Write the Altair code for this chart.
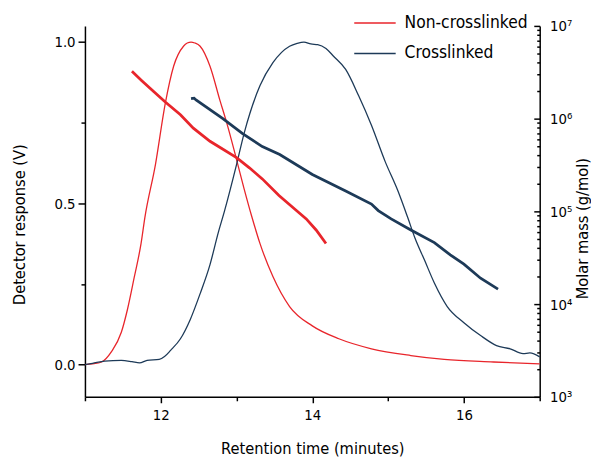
import altair as alt
import pandas as pd

FONT = "Liberation Sans Narrow, DejaVu Sans Condensed, sans-serif"
RED = "#e8252b"
NAVY = "#1d3a58"

series_names = ["Non-crosslinked", "Crosslinked"]

# Detector response (V) vs retention time (minutes)
red_det_t = [11.0, 11.1, 11.22, 11.35, 11.48, 11.56, 11.65, 11.74, 11.79, 11.93, 12.06, 12.17,
             12.30, 12.35, 12.40, 12.45, 12.52, 12.65, 12.78, 12.87, 12.99, 13.10, 13.20, 13.31,
             13.48, 13.70, 14.0, 14.35, 14.78, 15.30, 15.74, 16.39, 17.0]
red_det_v = [0.0, 0.002, 0.008, 0.04, 0.10, 0.17, 0.27, 0.375, 0.455, 0.62, 0.81, 0.925,
             0.987, 0.997, 1.0, 0.997, 0.987, 0.925, 0.82, 0.75, 0.645, 0.545, 0.46, 0.375,
             0.273, 0.18, 0.12, 0.08, 0.049, 0.028, 0.016, 0.008, 0.002]

navy_det_t = [11.0, 11.1, 11.26, 11.48, 11.62, 11.72, 11.82, 11.98, 12.05, 12.13, 12.26, 12.39,
              12.52, 12.65, 12.76, 12.84, 13.0, 13.10, 13.31, 13.48, 13.70, 13.80, 13.89, 13.98,
              14.07, 14.18, 14.28, 14.44, 14.61, 14.78, 14.96, 15.13, 15.26, 15.35, 15.48, 15.61,
              15.78, 16.0, 16.22, 16.43, 16.61, 16.78, 16.87, 17.0]
navy_det_v = [0.0, 0.004, 0.011, 0.013, 0.009, 0.005, 0.013, 0.016, 0.025, 0.044, 0.08, 0.14,
              0.22, 0.31, 0.41, 0.475, 0.62, 0.717, 0.865, 0.936, 0.987, 0.996, 1.0, 0.994,
              0.992, 0.98, 0.956, 0.915, 0.834, 0.742, 0.63, 0.538, 0.455, 0.395, 0.324, 0.253,
              0.18, 0.13, 0.09, 0.059, 0.049, 0.034, 0.036, 0.024]

# Molar mass (g/mol) vs retention time (minutes)
red_mm_t = [11.62, 11.75, 11.91, 12.06, 12.26, 12.43, 12.65, 13.0, 13.17, 13.34, 13.56, 13.79,
            13.92, 14.05, 14.18]
red_mm_m = [3.24e6, 2.57e6, 1.95e6, 1.51e6, 1.10e6, 7.9e5, 5.7e5, 3.8e5, 2.95e5, 2.24e5, 1.48e5,
            1.02e5, 8.3e4, 6.3e4, 4.5e4]

navy_mm_t = [12.40, 12.44, 12.47, 12.82, 13.08, 13.34, 13.57, 14.0, 14.44, 14.78, 14.87, 15.04,
             15.30, 15.61, 15.82, 16.0, 16.22, 16.45]
navy_mm_m = [1.64e6, 1.66e6, 1.58e6, 1.0e6, 6.9e5, 5.0e5, 4.1e5, 2.5e5, 1.66e5, 1.2e5, 1.02e5,
             8.3e4, 6.3e4, 4.6e4, 3.4e4, 2.7e4, 1.9e4, 1.45e4]

x_ticks = [11, 12, 13, 14, 15, 16, 17]
x_major = [12, 14, 16]
y_ticks = [0.0, 0.25, 0.5, 0.75, 1.0]
y_major = [0.0, 0.5, 1.0]
mm_ticks = [k * 10 ** e for e in range(3, 7) for k in range(1, 10)] + [10 ** 7]
mm_major = [10 ** 3, 10 ** 4, 10 ** 5, 10 ** 6, 10 ** 7]
mm_major_text = ["10³", "10⁴", "10⁵", "10⁶", "10⁷"]

det = pd.concat([
    pd.DataFrame({"t": red_det_t, "v": red_det_v, "series": series_names[0]}),
    pd.DataFrame({"t": navy_det_t, "v": navy_det_v, "series": series_names[1]}),
])
mm = pd.concat([
    pd.DataFrame({"t": red_mm_t, "m": red_mm_m, "series": series_names[0]}),
    pd.DataFrame({"t": navy_mm_t, "m": navy_mm_m, "series": series_names[1]}),
])


def is_in(values):
    return " || ".join(f"datum.value == {v}" for v in values)


mm_label_expr = " : ".join(f"datum.value == {v} ? '{s}'" for v, s in zip(mm_major, mm_major_text)) + " : ''"

color = alt.Color(
    "series:N",
    scale=alt.Scale(domain=series_names, range=[RED, NAVY]),
    legend=alt.Legend(
        title=None, orient="none", legendX=272, legendY=-25, padding=0,
        symbolType="stroke", symbolSize=1764, symbolStrokeWidth=1.5,
        labelFont=FONT, labelFontSize=17.5, labelColor="black", labelOffset=8,
        rowPadding=-8,
    ),
)

x_enc = alt.X(
    "t:Q",
    scale=alt.Scale(domain=[11, 17], nice=False, zero=False),
    axis=alt.Axis(
        values=x_ticks, title="Retention time (minutes)",
        labelExpr=f"{is_in(x_major)} ? format(datum.value, 'd') : ''",
        tickSize={"condition": {"test": is_in(x_major), "value": 6}, "value": 4},
        labelPadding=5, titleY=57, titleBaseline="alphabetic", labelOverlap=False,
    ),
)

det_layer = alt.Chart(det).mark_line(strokeWidth=1.3, interpolate="monotone").encode(
    x=x_enc,
    y=alt.Y(
        "v:Q",
        scale=alt.Scale(domain=[-0.1, 1.05], nice=False, zero=False),
        axis=alt.Axis(
            orient="left", values=y_ticks, title="Detector response (V)",
            labelExpr=f"{is_in(y_major)} ? format(datum.value, '.1f') : ''",
            tickSize={"condition": {"test": is_in(y_major), "value": 7}, "value": 4},
            labelPadding=3, titleX=-66, titleY=201, titleAngle=270, titleBaseline="middle",
            labelOverlap=False,
        ),
    ),
    color=color,
)

mm_layer = alt.Chart(mm).mark_line(strokeWidth=2.8).encode(
    x=x_enc,
    y=alt.Y(
        "m:Q",
        scale=alt.Scale(type="log", domain=[1e3, 1e7], nice=False),
        axis=alt.Axis(
            orient="left", offset=-461, values=mm_ticks, title="Molar mass (g/mol)",
            labelExpr=mm_label_expr, labelAlign="left",
            tickSize={"condition": {"test": is_in(mm_major), "value": 6}, "value": 3},
            labelPadding=-16, titleX=43, titleY=205, titleAngle=270, titleBaseline="middle",
            labelOverlap=False,
        ),
    ),
    color=color,
)

chart = alt.layer(det_layer, mm_layer).resolve_scale(y="independent").properties(
    width=461, height=376,
    autosize=alt.AutoSizeParams(type="none"),
    padding={"left": 78, "top": 15, "right": 52, "bottom": 70},
    background="white",
).configure_view(stroke=None).configure_axis(
    domainColor="black", domainWidth=1.5, tickColor="black", tickWidth=1.5,
    labelFont=FONT, labelFontSize=15, labelColor="black",
    titleFont=FONT, titleFontSize=16.5, titleFontWeight="normal", titleColor="black",
    grid=False,
)

chart.save("out.html", embed_options={"renderer": "svg", "actions": False})
